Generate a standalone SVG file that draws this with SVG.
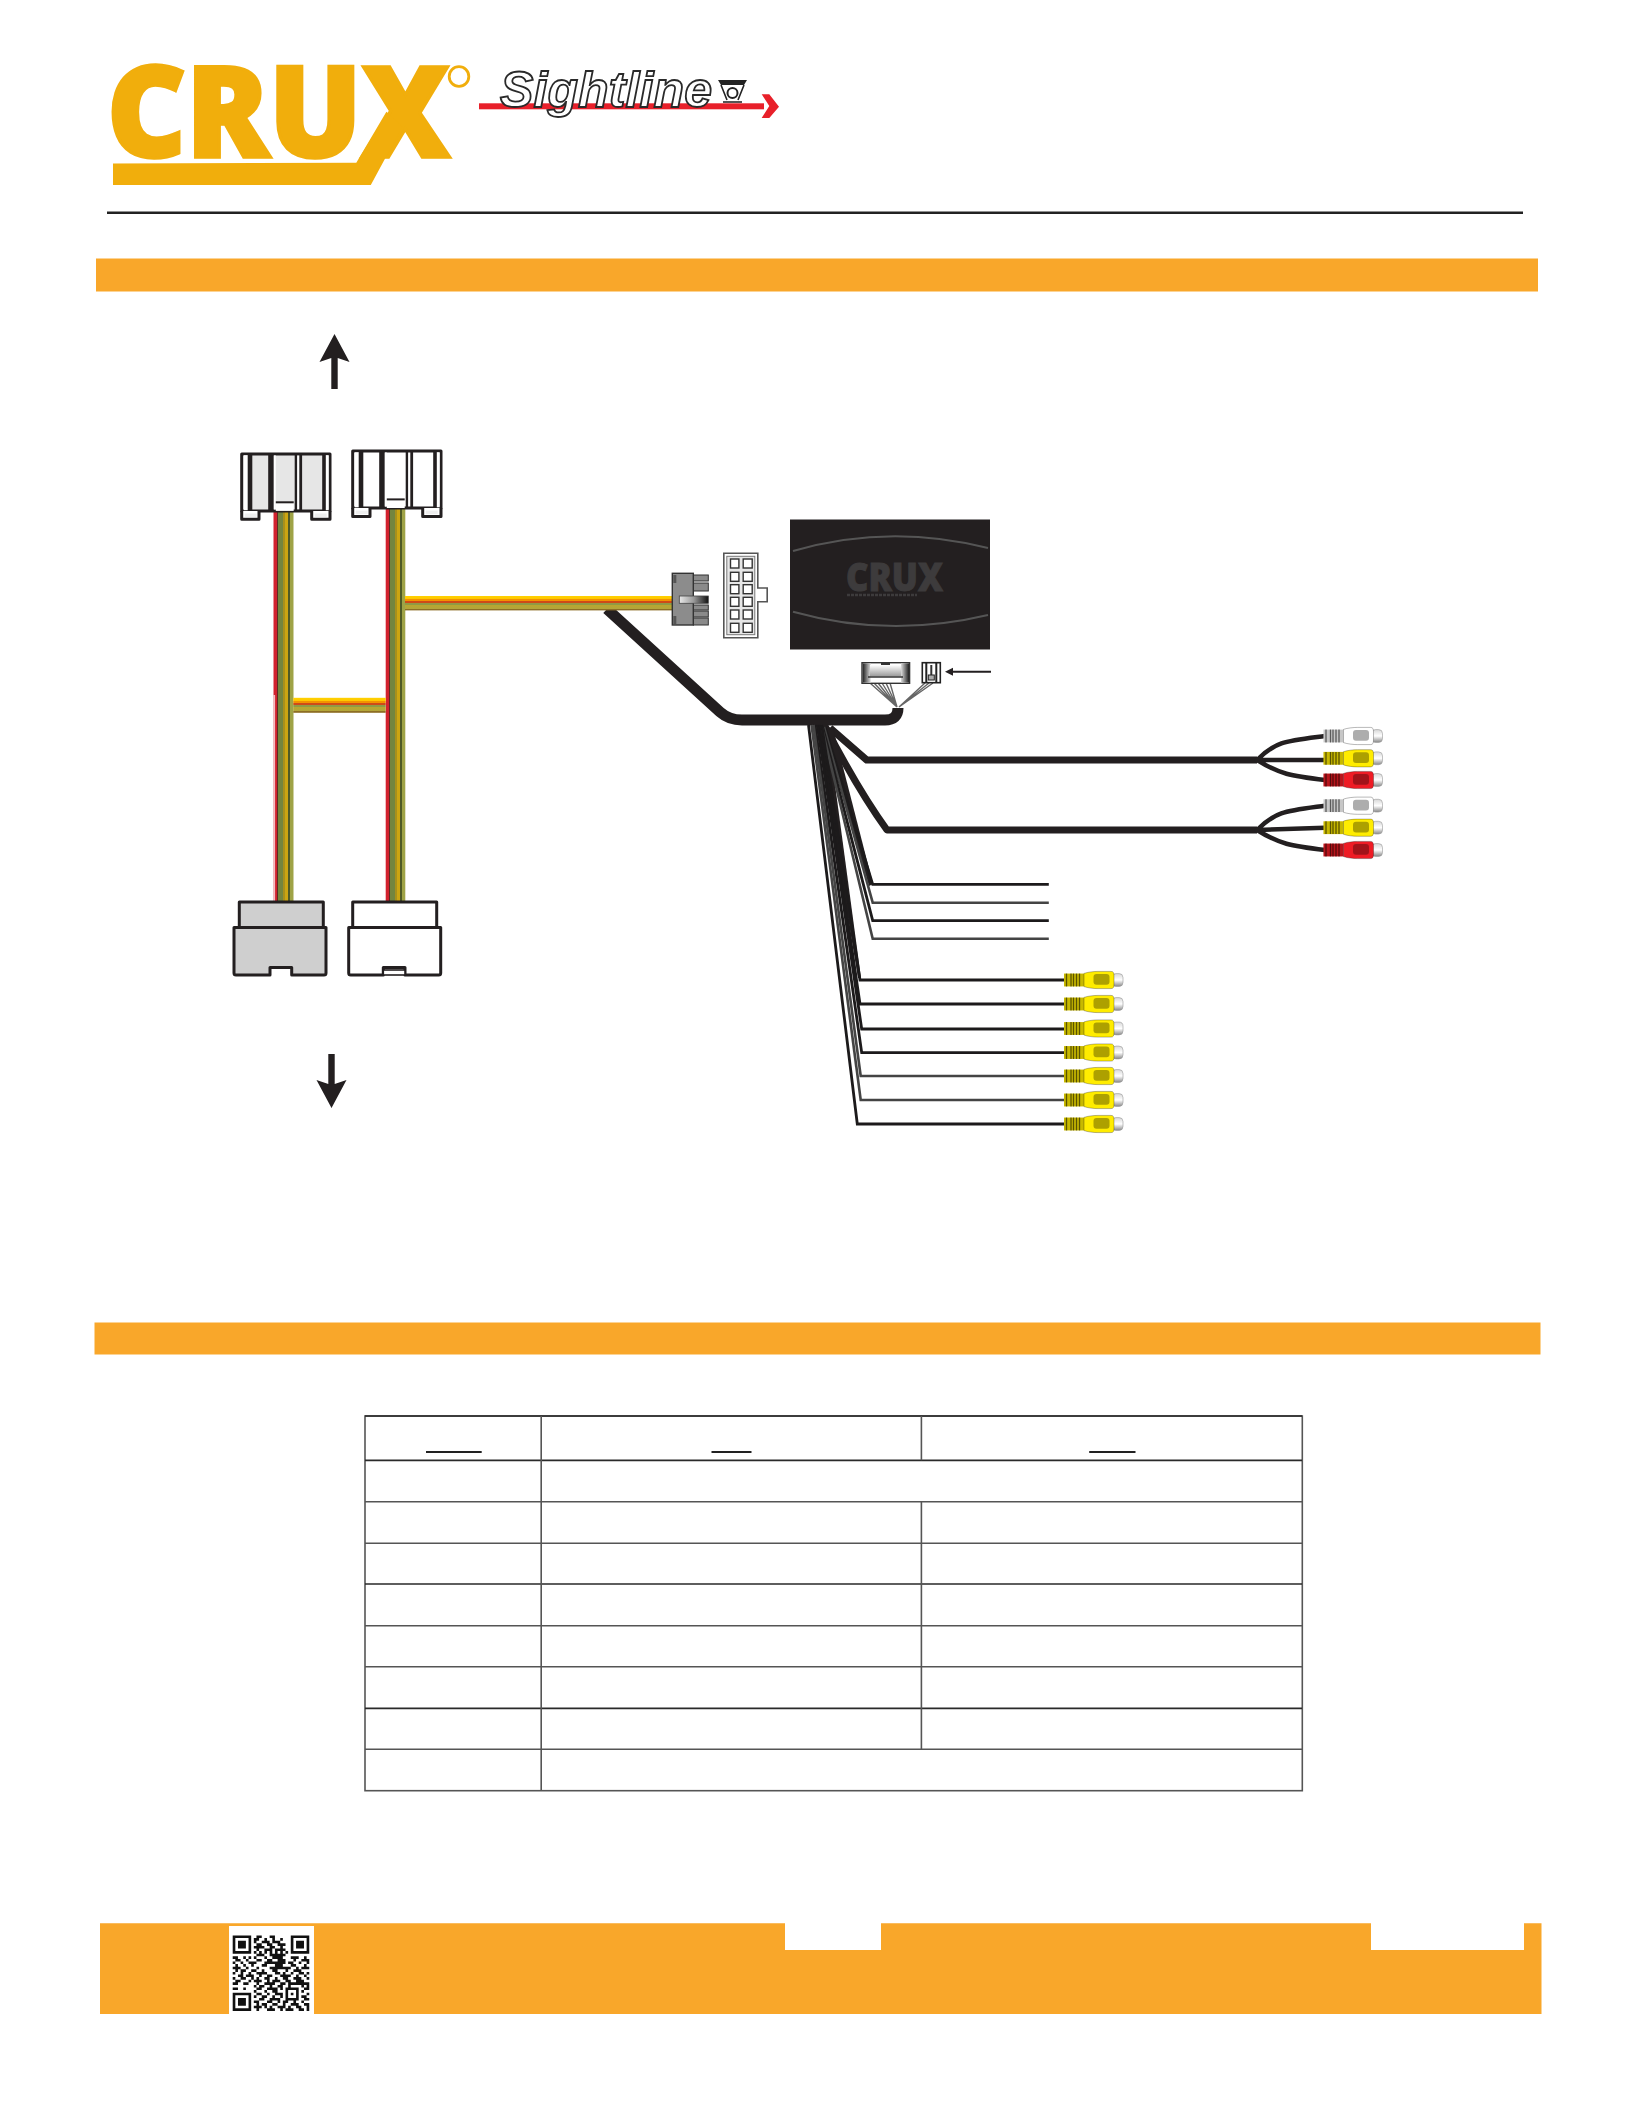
<svg xmlns="http://www.w3.org/2000/svg" xmlns:xlink="http://www.w3.org/1999/xlink" width="1632" height="2112" viewBox="0 0 1632 2112">
<style>
.band{fill:#f9a72a}
.ol{stroke:#231f20;stroke-width:3;stroke-linejoin:round}
.k{fill:#231f20}
.thick{fill:none;stroke:#231f20;stroke-width:7;stroke-linejoin:round}
.branch{fill:none;stroke:#231f20;stroke-width:4.5;stroke-linecap:round}
.thin{fill:none;stroke:#444;stroke-width:2.6}
.thinb{fill:none;stroke:#1c1a1b;stroke-width:2.8}
.wire{fill:none;stroke:#666;stroke-width:1.4}
.grid{fill:none;stroke:#555;stroke-width:1.6}
.gridb{fill:none;stroke:#2a2a2a;stroke-width:1.7}
.pin{fill:#fff;stroke:#333;stroke-width:1.4}
.rgrey{fill:#8a8a8a;stroke:#333;stroke-width:1}
</style>
<defs>
<linearGradient id="cv" x1="0" y1="0" x2="1" y2="0">
<stop offset="0" stop-color="#d2222e"/><stop offset=".15" stop-color="#d2222e"/><stop offset=".15" stop-color="#5f2a22"/><stop offset=".22" stop-color="#5f2a22"/><stop offset=".22" stop-color="#74853f"/><stop offset=".48" stop-color="#74853f"/><stop offset=".48" stop-color="#a8901c"/><stop offset=".6" stop-color="#a8901c"/><stop offset=".6" stop-color="#ccA512"/><stop offset=".75" stop-color="#cca512"/><stop offset=".75" stop-color="#4f5a26"/><stop offset=".82" stop-color="#4f5a26"/><stop offset=".82" stop-color="#9fa346"/><stop offset="1" stop-color="#9fa346"/>
</linearGradient>
<linearGradient id="ch" x1="0" y1="0" x2="0" y2="1">
<stop offset="0" stop-color="#ffd200"/><stop offset=".24" stop-color="#ffc400"/><stop offset=".24" stop-color="#f39200"/><stop offset=".36" stop-color="#f39200"/><stop offset=".36" stop-color="#cf4a17"/><stop offset=".46" stop-color="#cf4a17"/><stop offset=".46" stop-color="#8f9a45"/><stop offset=".62" stop-color="#8f9a45"/><stop offset=".62" stop-color="#b7a72f"/><stop offset=".88" stop-color="#b3a53a"/><stop offset=".88" stop-color="#8d6e24"/><stop offset="1" stop-color="#8d6e24"/>
</linearGradient>
<linearGradient id="slot" x1="0" y1="0" x2="1" y2="0"><stop offset="0" stop-color="#e8e8e8"/><stop offset=".5" stop-color="#999"/><stop offset="1" stop-color="#111"/></linearGradient>
<linearGradient id="fade" x1="0" y1="0" x2="0" y2="1"><stop offset="0" stop-color="#fff"/><stop offset="1" stop-color="#999"/></linearGradient>
<linearGradient id="endbar" x1="0" y1="0" x2="1" y2="0"><stop offset="0" stop-color="#222"/><stop offset="1" stop-color="#ddd"/></linearGradient>
<linearGradient id="tip" x1="0" y1="0" x2="0" y2="1"><stop offset="0" stop-color="#d8d8d8"/><stop offset=".5" stop-color="#fff"/><stop offset="1" stop-color="#888"/></linearGradient>

<g id="topConn">
<rect class="ol" width="88.3" height="57"/>
<path class="ol" d="M0 57V65.4H17.3V57M70 57V65.4H88.3V57" fill="#fff"/>
<rect x="3" y="59.6" width="12" height="3.6" fill="#eee"/><rect x="73" y="59.6" width="12" height="3.6" fill="#eee"/>
<rect x="2" y="1.3" width="5" height="55" fill="#fff"/><rect x="82" y="1.3" width="5" height="55" fill="#fff"/>
<rect class="k" x="6" y="0" width="4.6" height="57"/>
<rect class="k" x="26.5" y="0" width="5.6" height="57"/>
<rect x="32.1" y="1.5" width="2" height="54" fill="#fff"/>
<rect class="k" x="53" y="0" width="7.4" height="57"/>
<rect x="55.4" y="1.5" width="2.2" height="54" fill="#fff"/>
<rect class="k" x="80.5" y="0" width="3.6" height="57"/>
<rect x="34.1" y="49" width="17.9" height="8" fill="#fff"/><rect class="k" x="34.1" y="47.4" width="17.9" height="2"/>
</g>

<g id="rca">
<rect x="48" y="-6.4" width="11" height="12.8" rx="4" fill="url(#tip)" stroke="#999" stroke-width=".6"/>
<rect x="0" y="-6.4" width="20" height="12.8" fill="currentColor"/>
<rect x="0" y="-6.4" width="20" height="12.8" fill="#000" opacity=".22"/>
<path d="M2.5-6.4V6.4M7-6.4V6.4M9.5-6.4V6.4M12.5-6.4V6.4M15.5-6.4V6.4" stroke="#000" stroke-opacity=".55" stroke-width="1.3" fill="none"/>
<path d="M20-6.6C24-8 30-8.6 34-8.6H47C49.5-8.6 50-7 50-4V4C50 7 49.5 8.6 47 8.6H34C30 8.6 24 8 20 6.6Z" fill="currentColor" stroke="#000" stroke-opacity=".4" stroke-width=".7"/>
<rect x="29.5" y="-6" width="16" height="10.8" rx="3" fill="#000" opacity=".32"/>
</g>
</defs>

<rect width="1632" height="2112" fill="#fff"/>

<g id="logo-crux">
<text x="107" y="157" font-family="'Open Sans','Liberation Sans',sans-serif" font-weight="800" font-size="126" textLength="343" lengthAdjust="spacingAndGlyphs" fill="#f1ae0c" stroke="#f1ae0c" stroke-width="3.4">CRUX</text>
<polygon points="113,163.5 356.3,162.7 386.4,111.7 402.3,126.7 370.8,185 113,185" fill="#f1ae0c"/>
<circle cx="459" cy="76.5" r="9.8" fill="none" stroke="#f1ae0c" stroke-width="2.8"/>
</g>

<g id="logo-sightline">
<rect x="479" y="103.3" width="285" height="6" fill="#e8202a"/>
<polygon points="761.7,94.3 769.3,94.3 779,106.7 769.3,118 761.7,118 769.3,106" fill="#e8202a"/>
<text x="500" y="106.5" font-family="'Liberation Sans',Arial,sans-serif" font-style="italic" font-weight="700" font-size="50" textLength="212" fill="#fff" stroke="#2a2a2a" stroke-width="1.8">Sightline</text>
<polygon points="718,80 747,80 744,85 721,85" fill="#222"/>
<path d="M721 85L727 100M744 85L738 100" stroke="#222" stroke-width="1.6" fill="none"/>
<circle cx="732.5" cy="93" r="5" fill="#fff" stroke="#222" stroke-width="2"/>
<rect x="723" y="101" width="19" height="2" fill="#555"/>
</g>

<path id="rule" d="M107 212.7H1523" stroke="#222" stroke-width="2.6" fill="none"/>
<rect id="band-1" class="band" x="96" y="258.5" width="1442" height="33"/>
<rect id="band-2" class="band" x="94.5" y="1322.5" width="1446" height="32"/>

<g id="connectors">
<path class="thick" style="stroke-width:11" d="M607 609L720 712Q729 720 742 720L885 720Q898 720 898 708"/>
<rect x="273.5" y="505" width="20" height="397" fill="url(#cv)"/>
<rect x="273.5" y="695" width="1.6" height="207" fill="#fff" opacity=".7"/>
<rect x="385.7" y="503" width="19.6" height="399" fill="url(#cv)"/>
<rect x="293.3" y="697.8" width="92.4" height="15" fill="url(#ch)"/>
<rect x="405" y="596" width="268" height="14.4" fill="url(#ch)"/>

<path class="wire" d="M870 683L897 707M874 683L897 707M878 683L897 707M882 683L897 707M886 683L897 707M890 683L897 707M925 683L899 707M929 683L899 707M933 683L899 707"/>

<path class="thick" d="M830 728L866.7 760H1257"/>
<path class="thick" d="M825 726Q858 790 887 830H1257"/>
<path class="branch" d="M1257 760C1276 741 1286 741 1325 736M1257 760H1325M1257 760C1279 774 1291 776 1325 780"/>
<path class="branch" d="M1257 830C1276 811 1286 811 1325 805.7M1257 830L1325 827.7M1257 830C1279 844 1291 846 1325 850"/>

<polygon points="822,726 833,728 873,884 869,886" class="k"/>
<polygon points="816,725 827,725 861,978 858,978" class="k"/>
<path d="M813 727L855 1067" stroke="#e8e8e8" stroke-width="1" fill="none"/>
<path class="thinb" d="M825 727L872.7 884.3H1048.8"/>
<path class="thin" d="M824 727L872.7 902.7H1048.8"/>
<path class="thinb" d="M822.7 727L872.7 920.7H1048.8"/>
<path class="thin" d="M821.7 727L872.7 938.7H1048.8"/>

<path class="thinb" d="M821.7 725L860 980H1064"/>
<path class="thinb" d="M819 725L860 1004H1064"/>
<path class="thinb" d="M817.3 725L861.7 1029H1064"/>
<path class="thinb" d="M815 725L861.7 1052.7H1064"/>
<path class="thin" d="M813.5 725L860.7 1076H1064"/>
<path class="thin" d="M811.5 725L860.7 1100H1064"/>
<path class="thinb" d="M808.5 725L857.3 1124H1064"/>
</g>

<g id="arrow-up"><polygon points="334.5,334 349.5,362 337.7,358 337.7,389 331.3,389 331.3,358 319.5,362" class="k"/></g>
<g id="arrow-down"><polygon points="331.5,1108 316.5,1080 328.3,1084 328.3,1054 334.7,1054 334.7,1084 346.5,1080" class="k"/></g>

<g id="conn-top-left"><use href="#topConn" x="241.7" y="453.9" fill="#e6e6e6"/></g>
<g id="conn-top-right"><use href="#topConn" x="352.7" y="451" fill="#fff"/></g>

<g id="conn-bottom-left" fill="#cfcfcf">
<rect class="ol" x="239.3" y="902" width="84" height="25.5"/>
<path class="ol" d="M234 927.5H326V973Q326 975 324 975H291.7V967.5H270V975H236Q234 975 234 973Z"/>
</g>
<g id="conn-bottom-right" fill="#fff">
<rect class="ol" x="352.7" y="902" width="84" height="25.5"/>
<path class="ol" d="M348.7 927.5H440.7V973Q440.7 975 438.7 975H405V967.5H383.3V975H350.7Q348.7 975 348.7 973Z"/>
<rect x="383.3" y="970" width="21.7" height="5" fill="#fff" stroke="#231f20" stroke-width="1.6"/>
</g>

<g id="plug">
<rect class="rgrey" x="693.3" y="575" width="15" height="6"/>
<rect class="rgrey" x="693.3" y="583" width="15" height="8"/>
<rect class="rgrey" x="693.3" y="605" width="15" height="5"/>
<rect class="rgrey" x="693.3" y="611" width="15" height="6"/>
<rect class="rgrey" x="693.3" y="618" width="15" height="7"/>
<rect x="672.3" y="573.3" width="21" height="51.7" fill="#8c8c8c" stroke="#333" stroke-width="1.4"/>
<rect x="673.3" y="575" width="3" height="8" fill="#555"/><rect x="673.3" y="616" width="3" height="8" fill="#555"/>
<rect x="679.3" y="596" width="29" height="7.3" fill="url(#slot)" stroke="#444" stroke-width=".8"/>
</g>

<g id="socket">
<path d="M723.8 553.3H757.8V588H767.2V601.7H757.8V637.7H723.8Z" fill="#fff" stroke="#555" stroke-width="1.6"/>
<rect x="726.8" y="556.3" width="28" height="78.4" fill="#e6e6e6" stroke="#777" stroke-width="1"/>
<rect class="pin" x="730.5" y="559" width="8.4" height="9"/><rect class="pin" x="743.2" y="559" width="9" height="9"/>
<rect class="pin" x="730.5" y="572.3" width="8.4" height="9"/><rect class="pin" x="743.2" y="572.3" width="9" height="9"/>
<rect class="pin" x="730.5" y="584.7" width="8.4" height="9"/><rect class="pin" x="743.2" y="584.7" width="9" height="9"/>
<rect class="pin" x="730.5" y="597.3" width="8.4" height="9"/><rect class="pin" x="743.2" y="597.3" width="9" height="9"/>
<rect class="pin" x="730.5" y="610" width="8.4" height="9"/><rect class="pin" x="743.2" y="610" width="9" height="9"/>
<rect class="pin" x="730.5" y="623.3" width="8.4" height="9"/><rect class="pin" x="743.2" y="623.3" width="9" height="9"/>
</g>

<g id="module">
<rect x="790" y="519.5" width="200" height="130" fill="#231f20"/>
<path d="M793 551Q889 523 988 548" fill="none" stroke="#555" stroke-width="2"/>
<path d="M793 611.7Q889 638.6 988 615" fill="none" stroke="#555" stroke-width="2"/>
<text x="846" y="591" font-family="'Open Sans','Liberation Sans',sans-serif" font-weight="800" font-size="39" textLength="97" lengthAdjust="spacingAndGlyphs" fill="#3d3b3c" stroke="#3d3b3c" stroke-width="1">CRUX</text>
<path d="M847 595H917" stroke="#3d3b3c" stroke-width="2.6" stroke-dasharray="3 1" fill="none"/>
</g>

<g id="module-port-left">
<rect x="862" y="662.7" width="47.6" height="20.6" fill="#fff" stroke="#333" stroke-width="1.4"/>
<rect x="862.7" y="663.4" width="8" height="19.2" fill="url(#endbar)"/>
<rect x="901" y="663.4" width="8" height="19.2" fill="url(#endbar)" transform="rotate(180 905 673)"/>
<rect x="870" y="665" width="31" height="11.5" fill="url(#fade)"/>
<path d="M868 677H903" stroke="#333" stroke-width="1.4"/>
<rect x="881" y="663" width="9" height="2" fill="#333"/>
</g>
<g id="module-port-right">
<rect x="922.3" y="662.7" width="18" height="20" fill="#fff" stroke="#222" stroke-width="1.6"/>
<path d="M926.3 663V682M936.3 663V682" stroke="#222" stroke-width="2" fill="none"/>
<path d="M931.3 665V675" stroke="#333" stroke-width="2" fill="none"/>
<rect x="928.3" y="675" width="6" height="5" fill="#aaa" stroke="#222" stroke-width="1"/>
</g>
<g id="port-arrow">
<path d="M991 671.7H950" stroke="#231f20" stroke-width="2" fill="none"/>
<polygon points="945,671.7 953,667.7 953,675.7" class="k"/>
</g>

<g id="rca-group-a">
<use href="#rca" x="1323.5" y="736" color="#fff"/>
<use href="#rca" x="1323.5" y="758.3" color="#ffec00"/>
<use href="#rca" x="1323.5" y="780" color="#ee1c25"/>
</g>
<g id="rca-group-b">
<use href="#rca" x="1323.5" y="805.7" color="#fff"/>
<use href="#rca" x="1323.5" y="827.7" color="#ffec00"/>
<use href="#rca" x="1323.5" y="850" color="#ee1c25"/>
</g>
<g id="rca-group-c" color="#ffec00">
<use href="#rca" x="1064" y="980"/>
<use href="#rca" x="1064" y="1004"/>
<use href="#rca" x="1064" y="1028.5"/>
<use href="#rca" x="1064" y="1052.5"/>
<use href="#rca" x="1064" y="1076"/>
<use href="#rca" x="1064" y="1100"/>
<use href="#rca" x="1064" y="1124"/>
</g>

<g id="table">
<rect x="365" y="1416" width="937.3" height="374.7" fill="#fff" class="grid"/>
<path class="gridb" d="M365 1416H1302M365 1460.3H1302M365 1584H1302M365 1708.3H1302"/>
<path class="grid" d="M365 1501.7H1302M365 1543.3H1302M365 1625.7H1302M365 1666.7H1302M365 1749.3H1302"/>
<path class="grid" d="M541.2 1416V1790.7M921.4 1416V1460.3M921.4 1501.7V1749.3"/>
<path d="M426 1452H481.7M711.5 1452H751.5M1089.2 1452H1135.5" stroke="#222" stroke-width="1.8" fill="none"/>
</g>

<g id="footer">
<path class="band" d="M100 1923.3H785V1950H881V1923.3H1371V1950H1524V1923.3H1541.5V2014H100Z"/>
<rect x="229" y="1926" width="85" height="88" fill="#fff"/>
<path transform="translate(232.7 1935.5) scale(2.64 2.6)" fill="none" stroke="#111" stroke-width="1" d="M0 .5h7M9 .5h2M14 .5h2M22 .5h7M0 1.5h1M6 1.5h1M8 1.5h2M12 1.5h1M15 1.5h1M18 1.5h1M22 1.5h1M28 1.5h1M0 2.5h1M2 2.5h3M6 2.5h1M8 2.5h1M11 2.5h3M15 2.5h3M22 2.5h1M24 2.5h3M28 2.5h1M0 3.5h1M2 3.5h3M6 3.5h1M9 3.5h2M13 3.5h2M17 3.5h3M22 3.5h1M24 3.5h3M28 3.5h1M0 4.5h1M2 4.5h3M6 4.5h1M8 4.5h4M14 4.5h2M18 4.5h1M22 4.5h1M24 4.5h3M28 4.5h1M0 5.5h1M6 5.5h1M9 5.5h1M12 5.5h3M16 5.5h4M22 5.5h1M28 5.5h1M0 6.5h7M8 6.5h1M10 6.5h1M12 6.5h1M14 6.5h1M16 6.5h1M18 6.5h1M20 6.5h1M22 6.5h7M9 7.5h3M14 7.5h6M0 8.5h2M4 8.5h1M6 8.5h1M8 8.5h1M12 8.5h1M15 8.5h4M22 8.5h3M27 8.5h1M1 9.5h2M5 9.5h1M9 9.5h2M13 9.5h2M17 9.5h3M23 9.5h1M26 9.5h3M0 10.5h1M3 10.5h1M6 10.5h3M12 10.5h8M21 10.5h2M25 10.5h1M28 10.5h1M1 11.5h1M4 11.5h1M7 11.5h1M11 11.5h2M16 11.5h3M22 11.5h2M27 11.5h1M0 12.5h3M5 12.5h1M9 12.5h1M14 12.5h8M24 12.5h1M26 12.5h3M1 13.5h1M3 13.5h2M7 13.5h2M11 13.5h1M15 13.5h2M20 13.5h1M23 13.5h3M0 14.5h1M3 14.5h1M6 14.5h1M9 14.5h4M16 14.5h2M19 14.5h1M22 14.5h1M25 14.5h2M28 14.5h1M2 15.5h2M5 15.5h3M10 15.5h1M13 15.5h2M18 15.5h4M24 15.5h1M27 15.5h1M0 16.5h1M3 16.5h2M7 16.5h1M9 16.5h1M12 16.5h2M16 16.5h1M19 16.5h2M23 16.5h3M28 16.5h1M1 17.5h2M6 17.5h1M8 17.5h3M13 17.5h1M15 17.5h3M20 17.5h2M24 17.5h3M0 18.5h2M4 18.5h2M9 18.5h1M12 18.5h4M18 18.5h2M21 18.5h8M8 19.5h1M10 19.5h2M14 19.5h1M17 19.5h2M21 19.5h1M26 19.5h1M28 19.5h1M0 20.5h2M4 20.5h1M9 20.5h2M13 20.5h4M18 20.5h1M20 20.5h5M27 20.5h2M8 21.5h1M12 21.5h1M15 21.5h2M20 21.5h1M24 21.5h1M26 21.5h1M0 22.5h7M9 22.5h2M13 22.5h1M16 22.5h3M20 22.5h1M22 22.5h1M24 22.5h1M28 22.5h1M0 23.5h1M6 23.5h1M8 23.5h1M11 23.5h2M15 23.5h1M18 23.5h1M20 23.5h1M24 23.5h1M26 23.5h2M0 24.5h1M2 24.5h3M6 24.5h1M10 24.5h2M14 24.5h4M20 24.5h5M27 24.5h2M0 25.5h1M2 25.5h3M6 25.5h1M8 25.5h2M13 25.5h2M17 25.5h1M19 25.5h2M23 25.5h1M26 25.5h1M0 26.5h1M2 26.5h3M6 26.5h1M9 26.5h1M11 26.5h2M15 26.5h2M19 26.5h1M22 26.5h3M27 26.5h2M0 27.5h1M6 27.5h1M8 27.5h3M12 27.5h1M14 27.5h1M17 27.5h3M21 27.5h1M24 27.5h2M28 27.5h1M0 28.5h7M9 28.5h1M13 28.5h3M18 28.5h1M20 28.5h3M25 28.5h2M28 28.5h1"/>
</g>
</svg>
